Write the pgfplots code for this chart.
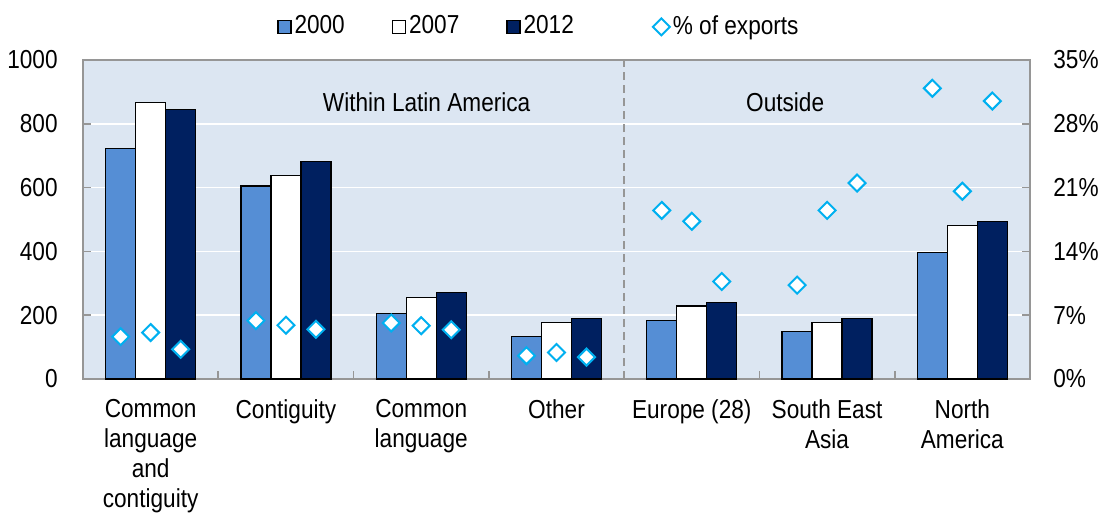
\documentclass[border=0pt]{standalone}
\usepackage{pgfplots}
\pgfplotsset{compat=1.18}
\usepackage{fontspec}
\setmainfont[FakeStretch=0.87]{Liberation Sans}
\definecolor{bgC}{RGB}{220,230,242}
\definecolor{cA}{RGB}{85,142,213}
\definecolor{cC}{RGB}{0,32,96}
\definecolor{cyanC}{RGB}{0,176,240}
\definecolor{axC}{RGB}{150,150,150}
\pgfplotsset{
  dialegend/.style={legend image code/.code={\draw[##1] plot coordinates {(4.25pt,0pt)};}},
  sqlegend/.style={legend image code/.code={\draw[fill=#1,draw=black,line width=0.6pt] (0pt,-3.25pt) rectangle (6.5pt,3.25pt);}},
}
\begin{document}
\fontsize{13}{15}\selectfont
\begin{tikzpicture}
\useasboundingbox (-41.5pt,-73pt) rectangle (511pt,189.5pt);
\begin{axis}[
  at={(0,0)}, anchor=south west,
  scale only axis, width=473.5pt, height=159.5pt,
  ybar=0pt, bar width=15pt,
  xmin=-0.5, xmax=6.5, ymin=0, ymax=1000,
  /pgf/number format/assume math mode=true,
  /pgf/number format/1000 sep={},
  axis background/.style={fill=bgC},
  axis line style={draw=axC, line width=0.8pt},
  ymajorgrids, grid style={white, line width=0.8pt},
  tick align=inside,
  xtick={0,...,6},
  xticklabels={{Common\\language\\and\\contiguity},Contiguity,{Common\\language},Other,Europe (28),{South East\\Asia},{North\\America}},
  xticklabel style={align=center, anchor=north, inner sep=0pt, yshift=-10pt},
  major x tick style={draw=none},
  minor xtick={0.5,1.5,2.5,4.5,5.5},
  minor tick length=4pt, major tick length=4pt,
  minor x tick style={draw=axC, line width=0.8pt},
  xtick pos=bottom, ytick pos=left,
  ytick={0,200,...,1000},
  major y tick style={draw=axC, line width=0.8pt},
  yticklabel style={anchor=east, inner sep=0pt, xshift=-12.5pt},
  legend columns=4,
  legend style={at={(0.482,1.104)}, anchor=center, draw=none, fill=none,
    nodes={inner xsep=1.5pt, inner ysep=0pt},
    /tikz/column 2/.style={column sep=22pt},
    /tikz/column 4/.style={column sep=22pt},
    /tikz/column 6/.style={column sep=38pt}},
]
\addplot[fill=cA, draw=black, line width=0.6pt, sqlegend=cA]
  coordinates {(0,722) (1,605) (2,206) (3,133) (4,184) (5,150) (6,396)};
\addlegendentry{2000}
\addplot[fill=white, draw=black, line width=0.6pt, sqlegend=white]
  coordinates {(0,866) (1,638) (2,255) (3,178) (4,229) (5,176) (6,480)};
\addlegendentry{2007}
\addplot[fill=cC, draw=black, line width=0.6pt, sqlegend=cC]
  coordinates {(0,844) (1,681) (2,272) (3,189) (4,240) (5,190) (6,493)};
\addlegendentry{2012}
\addlegendimage{only marks, mark=square*, mark size=3pt, mark options={rotate=45, draw=cyanC, fill=white, line width=1pt}, dialegend}
\addlegendentry{\% of exports}
\draw[axC, line width=0.8pt, dash pattern=on 4pt off 2.5pt] (axis cs:3.5,0) -- (axis cs:3.5,1000);
\node at (axis cs:2.04,868) {Within Latin America};
\node at (axis cs:4.69,868) {Outside};
\end{axis}
\begin{axis}[
  at={(0,0)}, anchor=south west,
  scale only axis, width=473.5pt, height=159.5pt,
  xmin=-0.5, xmax=6.5, ymin=0, ymax=35,
  /pgf/number format/assume math mode=true,
  axis x line=none, axis y line*=right,
  axis line style={draw=axC, line width=0.8pt},
  tick align=inside, major tick length=4pt,
  major y tick style={draw=axC, line width=0.8pt},
  ytick={0,7,...,35},
  yticklabel={\pgfmathprintnumber{\tick}\%},
  yticklabel style={anchor=west, inner sep=0pt, xshift=11.5pt},
  clip=false,
]
\addplot[only marks, mark=square*, mark size=3pt, mark options={rotate=45, draw=cyanC, fill=white, line width=1pt}]
  coordinates {
  (-0.2218,4.64) (0,5.1) (0.2218,3.26)
  (0.7782,6.4) (1,5.9) (1.2218,5.45)
  (1.7782,6.15) (2,5.85) (2.2218,5.4)
  (2.7782,2.56) (3,2.9) (3.2218,2.4)
  (3.7782,18.5) (4,17.3) (4.2218,10.7)
  (4.7782,10.3) (5,18.5) (5.2218,21.5)
  (5.7782,31.9) (6,20.6) (6.2218,30.5)};
\end{axis}
\end{tikzpicture}
\end{document}
